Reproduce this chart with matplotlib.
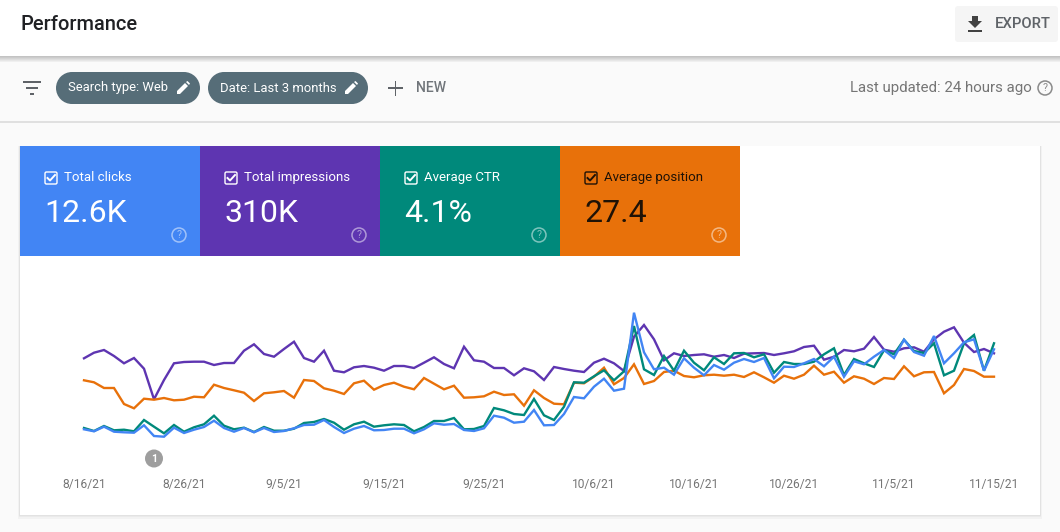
import pandas as pd
from matplotlib import pyplot as plt
from matplotlib.patches import Rectangle, FancyBboxPatch, Circle, Polygon

plt.rcParams['font.family'] = ['Roboto', 'DejaVu Sans']

# relative chart scale, the original has no y axis
purple = [141.7,147.3,150,144,136.7,142,131.3,100.7,120,136.7,138,138.3,138.3,135,137,137,149.3,155.7,146,143.3,151,158.3,142,138.3,149.3,129.3,127.7,132.7,134,132.3,
          129.3,134,134,132,137.3,142.7,136,131.7,153.3,139.7,138.3,132,132,124.7,131.7,128.7,120,133,131,129.3,128,137.3,141.3,136.7,129,163.3,175,160.7,139.7,146.7,
          144,145,145.7,143.3,145,142,146.3,146.7,147,145,146.7,148.7,153,154.3,140.3,143.3,150,148.7,151.3,163,150.3,148.3,151.7,152.7,148.3,160.7,168.3,172.7,157.3,148,151,146.7]
orange = [119.7,117.7,112,112,96,91.7,101.3,100.3,102,99.7,100.3,103.3,102.7,115.3,112,109.7,107.3,99,106.7,107.7,109,102.3,120,119,111.7,109.3,106,116.7,119.3,110.3,
          115,117.3,113.3,110.7,122,116.3,110.7,114.3,102.3,102.7,103.7,108.3,105,105.7,94.3,109.7,102,96.3,95.7,117.3,116.7,123.3,132.3,115.7,122,135.7,116,119,128,129.3,
          124,122.7,124.7,125.3,124.3,125.3,123,127.7,122.7,117.3,124.3,121.3,125.3,134.3,125.3,128.3,117.3,123.7,121.3,116,122,121,133.7,123.7,127.7,128,106.7,115,131,129,123.3,123.3]
green = [72,69,74,69.7,70.3,68.7,80,73.3,66.7,75,68.3,72.7,75.7,84.3,74.3,70.7,72.3,68,73,69.3,69.3,71.3,77,78,81,77.3,70.3,75.7,78.3,73.3,
         74.7,75.7,75,68.7,73,79,79,82,70.7,71,74,92,89.7,86,85,101,84.7,80,93.3,117.7,117.3,123.7,129.7,119.7,128.7,174,130.7,125,144,129.3,
         149.3,137.3,129.7,142.7,136,146.7,147,142.7,145.7,127.3,138,136,136,138.3,145.7,151.7,125,141,136.7,133,149.7,145.7,160.3,149,147,156.7,124.7,129.3,156.7,165,129.3,156.7]
blue = [70.7,68.7,73.3,68.3,67.7,67.3,74.7,64,63.3,72.3,67,70.3,73,79.3,72,68.3,72,67.7,72,68,69,71.7,75,75.3,80,73,67,71.3,74,69.7,
        70,71.3,71.3,66.7,70.7,76.7,75.3,76,70,69,71.7,84.3,82.3,77.3,78.3,90,74.7,75,86,103,101.7,113.3,121.3,109.3,111.3,187.3,147.7,130.7,132.3,125.3,
        141.7,132.3,124.7,135,130.3,137.3,141,138,142,121.7,133.3,133,136.7,141,133.7,143.3,123.3,138.7,135.7,143.3,150,142,160.3,148,144.3,164,136.7,146.7,157.7,160.7,129.3,150.7]

tick_labels = ['8/16/21', '8/26/21', '9/5/21', '9/15/21', '9/25/21',
               '10/6/21', '10/16/21', '10/26/21', '11/5/21', '11/15/21']
card_labels = ['Total clicks', 'Total impressions', 'Average CTR', 'Average position']
card_values = ['12.6K', '310K', '4.1%', '27.4']
card_colors = ['#4285f4', '#5e35b1', '#00897b', '#e8710a']
card_text = ['white', 'white', 'white', '#1f1206']

dates = pd.date_range('2021-08-16', periods=len(purple))
tick_dates = pd.to_datetime(tick_labels, format='%m/%d/%y')

fig = plt.figure(figsize=(10.6, 5.32), dpi=100, facecolor='#fafafa')

# page furniture, drawn in pixel coordinates
ui = fig.add_axes([0, 0, 1, 1])
ui.set_xlim(0, 1060)
ui.set_ylim(532, 0)
ui.axis('off')


def px(size):
    return size * 0.72


def rect(x, y, w, h, color, **kw):
    ui.add_patch(Rectangle((x, y), w, h, facecolor=color, edgecolor='none', **kw))


def help_icon(x, y, color, alpha=1.0):
    ui.add_patch(Circle((x, y), 7, facecolor='none', edgecolor=color, lw=1.1, alpha=alpha))
    ui.text(x, y + 0.3, '?', color=color, alpha=alpha, fontsize=px(10.5), ha='center', va='center')


def pencil(x, y, color='white'):
    ui.add_patch(Polygon([(x - 6, y + 6), (x - 6, y + 3), (x + 2, y - 5), (x + 5, y - 2), (x - 3, y + 6)],
                         facecolor=color, edgecolor='none'))
    ui.add_patch(Polygon([(x + 3, y - 6), (x + 4.5, y - 7), (x + 7, y - 4.5), (x + 6, y - 3)],
                         facecolor=color, edgecolor='none'))


# header
for i in range(6):
    rect(0, 56 + i, 1060, 1, '#000000', alpha=0.22 - i * 0.035)
rect(0, 0, 1060, 56, 'white')
ui.text(20, 25, 'Performance', fontsize=px(20), fontweight='medium', color='#202124', va='center')
ui.add_patch(FancyBboxPatch((957, 8), 99, 32, boxstyle='round,pad=2,rounding_size=3',
                            facecolor='#f5f5f5', edgecolor='none'))
ui.add_patch(Polygon([(972, 16), (978, 16), (978, 21), (982, 21), (975, 28), (968, 21), (972, 21)],
                     facecolor='#424242', edgecolor='none'))
rect(968, 30, 14, 2, '#424242')
ui.text(995, 24.5, 'EXPORT', fontsize=px(14.7), fontweight='medium', color='#5f6368', va='center')

# filter bar
for y, x0, x1 in [(82, 23, 41), (88, 26, 38), (94, 30, 34)]:
    rect(x0, y - 0.8, x1 - x0, 1.6, '#5f6368')
for x0, x1, label, pen in [(56, 200, 'Search type: Web', 183), (208, 368, 'Date: Last 3 months', 351)]:
    rect(x0 + 16, 72, x1 - x0 - 32, 32, '#566d78')
    ui.add_patch(Circle((x0 + 16, 88), 16, facecolor='#566d78', edgecolor='none'))
    ui.add_patch(Circle((x1 - 16, 88), 16, facecolor='#566d78', edgecolor='none'))
    ui.text(x0 + 12, 88, label, fontsize=px(13), color='white', va='center')
    pencil(pen, 88)
rect(388, 87, 15, 1.6, '#5f6368')
rect(394.7, 80.5, 1.6, 15, '#5f6368')
ui.text(416, 87.5, 'NEW', fontsize=px(14), fontweight='medium', color='#70757a', va='center')
ui.text(1032, 88, 'Last updated: 24 hours ago', fontsize=px(15), color='#757575', va='center', ha='right')
help_icon(1045, 88, '#8a8a8a')
rect(0, 121, 1060, 1.5, '#e0e0e0')

# white card with its soft shadow
for i in range(4):
    rect(20 - i * 0.7, 146, 1020 + 1.4 * i, 369 + 1.2 * i, '#000000', alpha=0.03)
rect(20, 146, 1020, 369, 'white')

# metric tiles
for i in range(4):
    x0 = 20 + 180 * i
    c = card_text[i]
    rect(x0, 146, 180, 110, card_colors[i])
    ui.add_patch(FancyBboxPatch((x0 + 25, 172), 12, 12, boxstyle='round,pad=0,rounding_size=1.5',
                                facecolor='none', edgecolor=c, lw=1))
    ui.plot([x0 + 27.5, x0 + 30, x0 + 35], [178, 180.5, 175], color=c, lw=1.4)
    ui.text(x0 + 44, 177.5, card_labels[i], fontsize=px(13.2), color=c, va='center')
    ui.text(x0 + 24, 214, card_values[i], fontsize=px(32), color=c, va='center')
    help_icon(x0 + 159, 235, 'white', alpha=0.5)

# annotation marker
ui.add_patch(Circle((154, 458.5), 9, facecolor='#9e9e9e', edgecolor='none'))
ui.text(154, 458.5, '1', fontsize=px(10.5), fontweight='bold', color='white', ha='center', va='center')

# the chart
ax = fig.add_axes([84 / 1060, 1 - 470 / 532, 910 / 1060, 210 / 532])
ax.patch.set_visible(False)
for series, color in [(purple, '#5e35b1'), (orange, '#e8710a'), (green, '#00897b'), (blue, '#4285f4')]:
    ax.plot(dates, series, color=color, lw=1.7, clip_on=False, solid_joinstyle='miter')
ax.set_xlim(dates[0], dates[-1])
ax.set_ylim(30, 240)
ax.set_yticks([])
ax.set_xticks(tick_dates)
ax.set_xticklabels(tick_labels)
ax.tick_params(axis='x', length=0, pad=6, labelsize=px(12), labelcolor='#757575')
for spine in ax.spines.values():
    spine.set_visible(False)

plt.savefig('out.png', dpi=100, facecolor=fig.get_facecolor())
